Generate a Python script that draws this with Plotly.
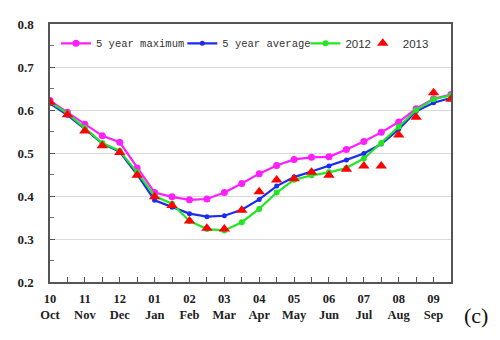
import plotly.graph_objects as go

# half-month steps starting at October (0 = Oct, 11.5 = mid Sep)
steps = [i * 0.5 for i in range(24)]

max5 = [0.622, 0.595, 0.567, 0.540, 0.525, 0.465, 0.408, 0.398, 0.391, 0.393, 0.408, 0.429,
        0.452, 0.471, 0.485, 0.490, 0.491, 0.508, 0.527, 0.548, 0.572, 0.603, 0.626, 0.636]
avg5 = [0.615, 0.588, 0.556, 0.522, 0.503, 0.450, 0.390, 0.374, 0.359, 0.352, 0.354, 0.368,
        0.392, 0.423, 0.444, 0.457, 0.470, 0.484, 0.499, 0.521, 0.555, 0.597, 0.617, 0.628]
y2012 = [0.618, 0.592, 0.558, 0.523, 0.505, 0.455, 0.400, 0.382, 0.342, 0.323, 0.320, 0.339,
         0.370, 0.408, 0.438, 0.448, 0.455, 0.465, 0.487, 0.523, 0.561, 0.600, 0.625, 0.634]
y2013 = [0.618, 0.589, 0.551, 0.517, 0.501, 0.448, 0.398, 0.378, 0.342, 0.325, 0.323, 0.367,
         0.410, 0.437, 0.440, 0.455, 0.448, 0.462, 0.470, 0.470, 0.542, 0.583, 0.640, 0.625]

month_nums = ["10", "11", "12", "01", "02", "03", "04", "05", "06", "07", "08", "09"]
month_names = ["Oct", "Nov", "Dec", "Jan", "Feb", "Mar", "Apr", "May", "Jun", "Jul", "Aug", "Sep"]

ticktext = []
for i in range(24):
    if i % 2 == 0:
        ticktext.append(f"{month_nums[i // 2]}<br>{month_names[i // 2]}")
    else:
        ticktext.append("")

fig = go.Figure()
fig.add_trace(go.Scatter(
    x=steps, y=max5, name="5 year maximum", mode="lines+markers", legend="legend",
    line=dict(color="#FF1EFF", width=2.2), marker=dict(size=7, color="#FF1EFF"),
))
fig.add_trace(go.Scatter(
    x=steps, y=avg5, name="5 year average", mode="lines+markers", legend="legend2",
    line=dict(color="#1C2BF0", width=2.2), marker=dict(size=5, color="#1C2BF0"),
))
fig.add_trace(go.Scatter(
    x=steps, y=y2012, name="2012", mode="lines+markers", legend="legend3",
    line=dict(color="#22E622", width=2.2), marker=dict(size=6, color="#22E622"),
))
fig.add_trace(go.Scatter(
    x=steps, y=y2013, name="2013", mode="markers", legend="legend4",
    marker=dict(symbol="triangle-up", size=10, color="#FF0000"),
))

mono = dict(family="Liberation Mono", size=10.5, color="#333")
sans = dict(family="Liberation Sans", size=11.5, color="#333")
leg_y = 0.925


def leg(x, font):
    return dict(x=x, y=leg_y, xanchor="left", yanchor="middle", font=font,
                bgcolor="rgba(0,0,0,0)", borderwidth=0, itemwidth=30)


fig.update_layout(
    width=500, height=340,
    margin=dict(l=35, r=57, t=9, b=66),
    plot_bgcolor="white", paper_bgcolor="white",
    showlegend=True,
    legend=leg(0.015, mono),
    legend2=leg(0.33, mono),
    legend3=leg(0.637, sans),
    legend4=leg(0.78, sans),
    xaxis=dict(
        range=[0, 11.5], tickmode="array", tickvals=steps, ticktext=ticktext,
        ticks="inside", ticklen=5, tickcolor="#555",
        showline=True, linecolor="#555", linewidth=1.5, mirror=True,
        showgrid=False, zeroline=False,
        tickfont=dict(family="Liberation Serif", size=12.5, color="#222", weight="bold"),
        ticklabelstandoff=4,
    ),
    yaxis=dict(
        range=[0.2, 0.8], tickmode="array", tickvals=[0.2, 0.3, 0.4, 0.5, 0.6, 0.7, 0.8],
        ticktext=["0.2", "0.3", "0.4", "0.5", "0.6", "0.7", "0.8"],
        ticks="inside", ticklen=5, tickcolor="#555",
        minor=dict(ticks="inside", ticklen=4, tickcolor="#777",
                   tickvals=[0.25, 0.35, 0.45, 0.55, 0.65, 0.75], showgrid=False),
        showline=True, linecolor="#555", linewidth=1.5, mirror=True,
        showgrid=True, gridcolor="#D9D9D9", gridwidth=1, zeroline=False,
        tickfont=dict(family="Liberation Serif", size=13, color="#222", weight="bold"),
        ticklabelstandoff=12,
    ),
    annotations=[dict(
        text="(c)", xref="paper", yref="paper", x=1.027, y=-0.128,
        xanchor="left", yanchor="middle", showarrow=False,
        font=dict(family="Liberation Serif", size=22, color="#111"),
    )],
)

fig.write_html("out.html")
